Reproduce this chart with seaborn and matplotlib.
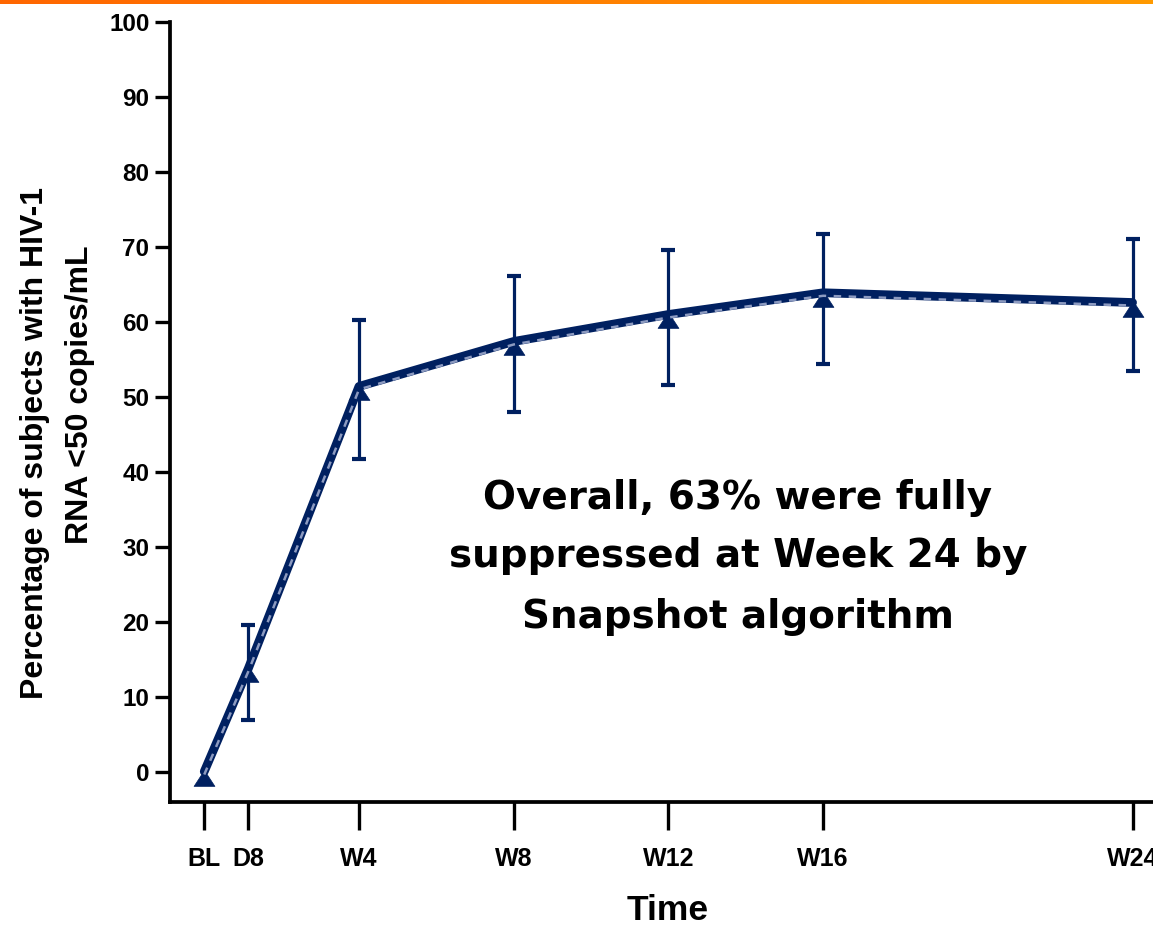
import numpy as np
import pandas as pd
import matplotlib
matplotlib.use("Agg")
import matplotlib.pyplot as plt
import matplotlib.transforms as mtransforms
from matplotlib.colors import LinearSegmentedColormap
import seaborn as sns

# ---------------- data ----------------
timepoints = ["BL", "D8", "W4", "W8", "W12", "W16", "W24"]
study_day = [0, 8, 28, 56, 84, 112, 168]
pct_suppressed = [0.0, 13.8, 51.4, 57.4, 61.0, 63.9, 62.6]
ci_lower = [np.nan, 6.9, 41.7, 48.0, 51.6, 54.4, 53.5]
ci_upper = [np.nan, 19.6, 60.2, 66.2, 69.6, 71.8, 71.1]
yticks = list(range(0, 101, 10))
ylabel_lines = ["Percentage of subjects with HIV-1", "RNA <50 copies/mL"]
xlabel = "Time"
note_lines = ["Overall, 63% were fully",
              "suppressed at Week 24 by",
              "Snapshot algorithm"]

# ---------------- style ----------------
sns.set_theme(style="ticks")
plt.rcParams["font.family"] = ["Liberation Sans", "DejaVu Sans"]
plt.rcParams["font.weight"] = "bold"
plt.rcParams["axes.labelcolor"] = "black"
plt.rcParams["text.color"] = "black"

navy = "#002060"
W, H = 1153, 927
fig = plt.figure(figsize=(W / 100, H / 100), dpi=100)
fig.patch.set_facecolor("white")

ax_left, ax_right = 170, 1153
ax_top, ax_bottom = 22.3, 801.5
ax = fig.add_axes([ax_left / W, 1 - ax_bottom / H,
                   (ax_right - ax_left) / W, (ax_bottom - ax_top) / H])
ax.set_facecolor("white")

df = pd.DataFrame({"day": study_day, "pct": pct_suppressed,
                   "lo": ci_lower, "hi": ci_upper, "tp": timepoints})

# error bars (95% CI)
ci = df.dropna()
ax.errorbar(ci["day"], ci["pct"],
            yerr=[ci["pct"] - ci["lo"], ci["hi"] - ci["pct"]],
            fmt="none", ecolor=navy, elinewidth=2.3, capsize=5, capthick=3,
            zorder=2)

# main line with hanging triangle markers
tri = [(0, 0.15), (-0.75, -1.0), (0.75, -1.0), (0, 0.15)]
sns.lineplot(data=df, x="day", y="pct", ax=ax, color=navy, linewidth=6.3,
             marker=tri, markersize=20, markeredgecolor=navy,
             markerfacecolor=navy, markeredgewidth=0.5, errorbar=None,
             zorder=3)

# faint dashed overlay along the lower edge of the main line
offset = mtransforms.offset_copy(ax.transData, fig=fig, x=0, y=-3, units="dots")
ax.plot(df["day"], df["pct"], color="#8c9ac0", lw=1.8, ls=(0, (3, 3)),
        transform=offset, zorder=3.5)

# axes
ax.set_xlim(-6.2, 171.7)
ax.set_ylim(-4, 100)
ax.set_xticks(study_day)
ax.set_xticklabels(timepoints)
ax.set_yticks(yticks)
ax.set_yticklabels([str(v) for v in yticks])
for side in ["top", "right"]:
    ax.spines[side].set_visible(False)
for side in ["left", "bottom"]:
    ax.spines[side].set_linewidth(2.7)
    ax.spines[side].set_color("black")
ax.tick_params(axis="x", direction="out", length=20.5, width=2.4, pad=12,
               labelsize=18, colors="black")
ax.tick_params(axis="y", direction="out", length=10.8, width=2.4, pad=4,
               labelsize=17.5, colors="black")
for lab in ax.get_xticklabels() + ax.get_yticklabels():
    lab.set_fontweight("bold")
ax.grid(False)

# axis labels
ax.set_xlabel(xlabel, fontsize=25.5, fontweight="bold", color="black")
ax.xaxis.label.set_va("baseline")
ax.xaxis.set_label_coords((668 - ax_left) / (ax_right - ax_left),
                          (ax_bottom - 920) / (ax_bottom - ax_top))

ax.set_ylabel(ylabel_lines[0], fontsize=23, fontweight="bold", color="black")
ax.yaxis.label.set(rotation_mode="anchor", ha="center", va="baseline")
ax.yaxis.set_label_coords((43 - ax_left) / (ax_right - ax_left),
                          (ax_bottom - 443) / (ax_bottom - ax_top))
ax.text((88 - ax_left) / (ax_right - ax_left),
        (ax_bottom - 395) / (ax_bottom - ax_top),
        ylabel_lines[1], transform=ax.transAxes, rotation=90,
        rotation_mode="anchor", ha="center", va="baseline",
        fontsize=23, fontweight="bold", color="black", clip_on=False)

# annotation
for line, base in zip(note_lines, [509, 567, 627.5]):
    ax.text((738 - ax_left) / (ax_right - ax_left),
            (ax_bottom - base) / (ax_bottom - ax_top),
            line, transform=ax.transAxes, ha="center", va="baseline",
            fontsize=28, fontweight="bold", color="black",
            family=["DejaVu Sans"])

# orange header strip
bar = fig.add_axes([0, 1 - 4 / H, 1, 4 / H])
cmap = LinearSegmentedColormap.from_list("hdr", ["#FF6600", "#FF9A00"])
bar.imshow(np.linspace(0, 1, 256)[None, :], aspect="auto", cmap=cmap)
bar.set_axis_off()

fig.savefig("out.png", dpi=100)
